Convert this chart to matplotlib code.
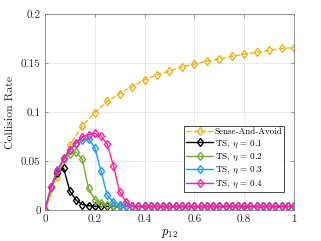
import numpy as np
import matplotlib
matplotlib.use('Agg')
from matplotlib import pyplot as plt

plt.rcParams['font.family'] = 'cmr10'
plt.rcParams['mathtext.fontset'] = 'cm'
plt.rcParams['axes.formatter.use_mathtext'] = True

# Sense-And-Avoid sampled every 0.05
p_saa = np.linspace(0, 1, 21)
saa = [0, 0.034, 0.0665, 0.086, 0.0995, 0.111, 0.119, 0.126, 0.133, 0.138,
       0.142, 0.146, 0.149, 0.152, 0.154, 0.157, 0.159, 0.161, 0.163, 0.165, 0.1655]

# TS curves sampled every 0.025
p_ts = np.linspace(0, 1, 41)
tail = [0.004] * 25
ts01 = [0, 0.024, 0.038, 0.043, 0.0197, 0.0105, 0.006, 0.0047, 0.0042, 0.004,
        0.004, 0.004, 0.004, 0.004, 0.004, 0.004] + tail
ts02 = [0, 0.024, 0.040, 0.053, 0.057, 0.0595, 0.052, 0.0224, 0.011, 0.0075,
        0.005, 0.0045, 0.004, 0.004, 0.004, 0.004] + tail
ts03 = [0, 0.024, 0.041, 0.053, 0.062, 0.068, 0.0715, 0.0725, 0.064, 0.040,
        0.0153, 0.0088, 0.0054, 0.0044, 0.004, 0.004] + tail
ts04 = [0, 0.024, 0.040, 0.052, 0.061, 0.069, 0.075, 0.077, 0.0785, 0.0757,
        0.0675, 0.0455, 0.019, 0.0088, 0.0044, 0.004] + tail

fig = plt.figure(figsize=(3.21, 2.41), dpi=100)
ax = fig.add_axes([0.140, 0.127, 0.776, 0.815])

mk = dict(marker='d', markersize=4.3, markerfacecolor='none', markeredgewidth=1.0, linewidth=1.0)
ax.plot(p_saa, saa, '--', color='#EDB120', label='Sense-And-Avoid', **mk)
ax.plot(p_ts, ts01, '-', color='black', label=r'TS, $\eta$ = 0.1', **mk)
ax.plot(p_ts, ts02, '-', color='#77AC30', label=r'TS, $\eta$ = 0.2', **mk)
ax.plot(p_ts, ts03, '-', color='#1E9BFF', label=r'TS, $\eta$ = 0.3', **mk)
ax.plot(p_ts, ts04, '-', color='#FF1FA5', label=r'TS, $\eta$ = 0.4', **mk)

ax.set_xlim(0, 1)
ax.set_ylim(0, 0.2)
ax.set_xticks([0, 0.2, 0.4, 0.6, 0.8, 1])
ax.set_xticklabels(['0', '0.2', '0.4', '0.6', '0.8', '1'])
ax.set_yticks([0, 0.05, 0.1, 0.15, 0.2])
ax.set_yticklabels(['0', '0.05', '0.1', '0.15', '0.2'])
ax.grid(True, color='#e6e6e6', linewidth=0.6)
ax.set_axisbelow(True)
for s in ax.spines.values():
    s.set_color('#808080')
    s.set_linewidth(0.6)
ax.tick_params(direction='in', length=2.5, width=0.6, color='#808080',
               labelsize=8, labelcolor='#262626', top=True, right=True, pad=3)
ax.set_xlabel(r'$p_{12}$', fontsize=9, labelpad=2)
ax.set_ylabel('Collision Rate', fontsize=8.5, labelpad=4, color='#262626')

leg = ax.legend(loc='lower right', bbox_to_anchor=(0.96, 0.095), fontsize=6.5,
                frameon=True, fancybox=False, edgecolor='#262626', framealpha=1,
                handlelength=3.0, handletextpad=0.15, labelspacing=0.25,
                borderpad=0.2, borderaxespad=0)
leg.get_frame().set_linewidth(0.6)

fig.savefig('out.png', dpi=100)
